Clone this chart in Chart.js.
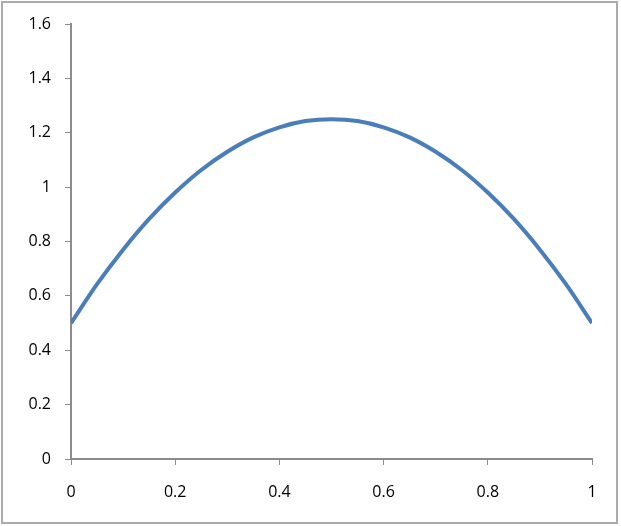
<!DOCTYPE html>
<html>
<head>
<meta charset="utf-8">
<script src="https://cdn.jsdelivr.net/npm/chart.js@4"></script>
<style>
  html, body { margin: 0; padding: 0; background: #fff; }
  #wrap { position: relative; width: 621px; height: 526px; }
  #frame { position: absolute; left: 1px; top: 1px; width: 617px; height: 523px; border: 2px solid #ababab; box-sizing: border-box; }
</style>
</head>
<body>
<div id="wrap">
  <canvas id="curveChart" width="621" height="526"></canvas>
  <div id="frame"></div>
</div>
<script>
// Values
const xValues = [0, 0.05, 0.1, 0.15, 0.2, 0.25, 0.3, 0.35, 0.4, 0.45, 0.5,
                 0.55, 0.6, 0.65, 0.7, 0.75, 0.8, 0.85, 0.9, 0.95, 1];
const yValues = [0.500, 0.643, 0.770, 0.883, 0.980, 1.063, 1.130, 1.183, 1.220, 1.243, 1.250,
                 1.243, 1.220, 1.183, 1.130, 1.063, 0.980, 0.883, 0.770, 0.643, 0.500];

const points = xValues.map((x, i) => ({ x: x, y: yValues[i] }));

const axisColor = '#8c8c8c';
const tickFont = { family: 'Open Sans, Liberation Sans, sans-serif', size: 16 };
const fmt = v => String(Math.round(v * 10) / 10);

const ctx = document.getElementById('curveChart').getContext('2d');
new Chart(ctx, {
    type: 'scatter',
    data: {
        datasets: [{
            data: points,
            showLine: true,
            borderColor: '#4a7ebb',
            borderWidth: 4,
            pointRadius: 0,
            tension: 0.3
        }]
    },
    options: {
        responsive: false,
        animation: false,
        layout: { padding: { left: 0, top: 24, right: 29, bottom: 0 } },
        plugins: { legend: { display: false }, tooltip: { enabled: false } },
        scales: {
            x: {
                type: 'linear',
                min: 0,
                max: 1,
                ticks: { stepSize: 0.2, color: '#000', font: tickFont, padding: 18, callback: fmt },
                grid: { drawOnChartArea: false, drawTicks: true, tickLength: 6, color: axisColor, lineWidth: 1 },
                border: { display: true, color: axisColor, width: 2 },
                afterFit: s => { s.height = 67; }
            },
            y: {
                min: 0,
                max: 1.6,
                ticks: { stepSize: 0.2, color: '#000', font: tickFont, padding: 14, callback: fmt },
                grid: { drawOnChartArea: false, drawTicks: true, tickLength: 6, color: axisColor, lineWidth: 1 },
                border: { display: true, color: axisColor, width: 2 },
                afterFit: s => { s.width = 71; }
            }
        }
    }
});
</script>
</body>
</html>
